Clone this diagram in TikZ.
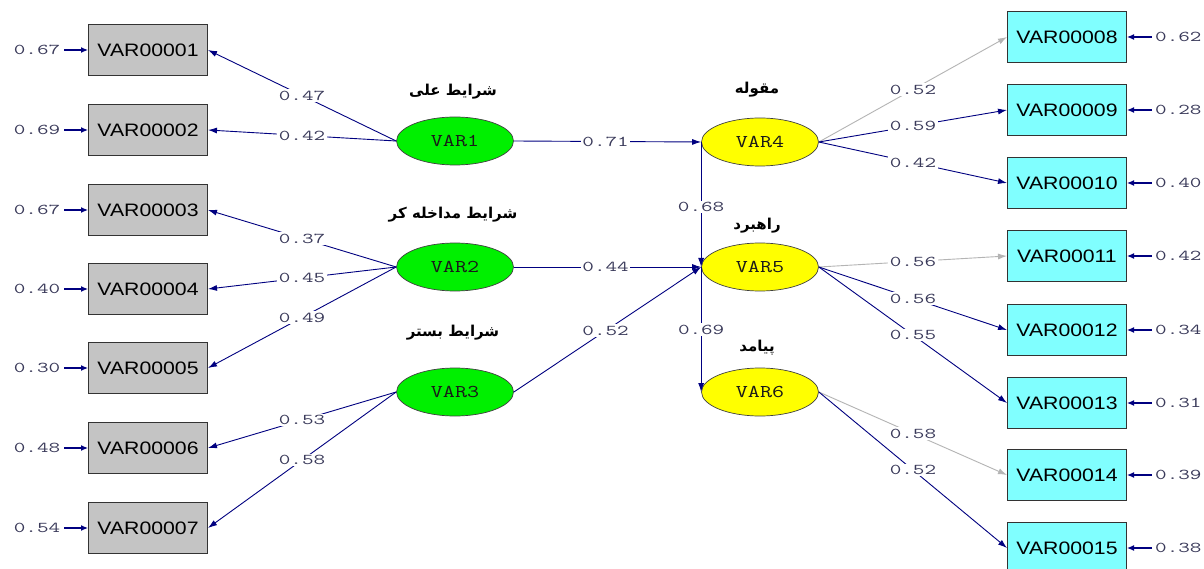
\documentclass[tikz,border=0pt]{standalone}
\usepackage{fontspec}
\setmainfont{Liberation Sans}
\newfontfamily\arabicfont[Script=Arabic]{DejaVu Sans}
\TeXXeTstate=1
\usetikzlibrary{shapes.geometric,arrows.meta}
\definecolor{navy}{HTML}{000080}
\definecolor{lgray}{HTML}{B4B4B4}
\definecolor{boxgray}{HTML}{C4C4C4}
\definecolor{boxcyan}{HTML}{80FFFF}
\definecolor{lgreen}{HTML}{00F000}
\definecolor{lyellow}{HTML}{FFFF00}
\definecolor{numcol}{HTML}{3A3A5A}
\newcommand{\cf}[1]{\scalebox{1.5}[1]{#1}}
\newcommand{\vl}[1]{\scalebox{1.3}[1]{#1}}
\newcommand{\bx}[1]{\scalebox{1.18}[1]{#1}}
\newcommand{\ar}[1]{\arabicfont\bfseries\beginR #1\endR}
\tikzset{
  obs/.style={draw=black!80, line width=1pt, minimum width=119pt, minimum height=51pt, inner sep=0pt, font=\fontsize{18}{18}\selectfont},
  lobs/.style={obs, fill=boxgray},
  robs/.style={obs, fill=boxcyan},
  lat/.style={ellipse, draw=black!75, line width=0.7pt, minimum width=117pt, minimum height=48pt, inner sep=0pt, font=\ttfamily\fontsize{18}{18}\selectfont, text=black!90},
  glat/.style={lat, fill=lgreen},
  ylat/.style={lat, fill=lyellow},
  path/.style={draw=navy, line width=0.9pt, -{Latex[length=9pt,width=6pt]}},
  gpath/.style={path, draw=lgray},
  err/.style={draw=navy, line width=1.2pt, -{Latex[length=7pt,width=6pt]}},
  coef/.style={fill=white, inner sep=1.5pt, text=numcol, font=\ttfamily\fontsize{15}{15}\selectfont},
  etext/.style={text=numcol, inner sep=0pt, font=\ttfamily\fontsize{15}{15}\selectfont},
  albl/.style={font=\fontsize{15}{15}\selectfont, inner sep=0pt}
}
\begin{document}
\begin{tikzpicture}[x=1pt,y=-1pt]
\useasboundingbox[fill=white] (0,0) rectangle (1204,569);
% left observed
\foreach \i/\y/\e in {1/50/0.67,2/130/0.69,3/210/0.67,4/289/0.40,5/368/0.30,6/448/0.48,7/528/0.54}{
  \node[lobs] (b\i) at (148,\y) {\bx{VAR0000\i}};
  \coordinate (le\i) at (64,\y);
  \node[etext] (lt\i) at (37,\y) {\cf{\e}};
  \draw[err] (le\i) -- (b\i.west);
}
% right observed
\foreach \i/\y/\e in {08/37/0.62,09/110/0.28,10/183/0.40,11/256/0.42,12/330/0.34,13/403/0.31,14/475/0.39,15/548/0.38}{
  \node[robs] (b\i) at (1067,\y) {\bx{VAR000\i}};
  \coordinate (re\i) at (1152,\y);
  \node[etext, anchor=west] (rt\i) at (1155,\y) {\cf{\e}};
  \draw[err] (re\i) -- (b\i.east);
}
% latent
\node[glat] (v1) at (455,141) {\vl{VAR1}};
\node[glat] (v2) at (455,267) {\vl{VAR2}};
\node[glat] (v3) at (455,392) {\vl{VAR3}};
\node[ylat] (v4) at (760,142) {\vl{VAR4}};
\node[ylat] (v5) at (760,267) {\vl{VAR5}};
\node[ylat] (v6) at (760,392) {\vl{VAR6}};
% arabic labels
\node[albl] (a1) at (453,92) {\ar{شرایط علی}};
\node[albl] (a2) at (453,215) {\ar{شرایط مداخله کر}};
\node[albl] (a3) at (453,333) {\ar{شرایط بستر}};
\node[albl] (a4) at (757,90) {\ar{مقوله}};
\node[albl] (a5) at (757,226) {\ar{راهبرد}};
\node[albl] (a6) at (757,348) {\ar{پیامد}};
% left loadings
\draw[path] (v1.west) -- node[coef,pos=.5]{\cf{0.47}} (b1.east);
\draw[path] (v1.west) -- node[coef,pos=.5]{\cf{0.42}} (b2.east);
\draw[path] (v2.west) -- node[coef,pos=.5]{\cf{0.37}} (b3.east);
\draw[path] (v2.west) -- node[coef,pos=.5]{\cf{0.45}} (b4.east);
\draw[path] (v2.west) -- node[coef,pos=.5]{\cf{0.49}} (b5.east);
\draw[path] (v3.west) -- node[coef,pos=.5]{\cf{0.53}} (b6.east);
\draw[path] (v3.west) -- node[coef,pos=.5]{\cf{0.58}} (b7.east);
% structural
\draw[path] (v1.east) -- node[coef,pos=.49]{\cf{0.71}} (v4.west);
\draw[path] (v2.east) -- node[coef,pos=.49]{\cf{0.44}} (v5.west);
\draw[path] (v3.east) -- node[coef,pos=.49]{\cf{0.52}} (v5.west);
\draw[path] (v4.west) -- node[coef,pos=.52]{\cf{0.68}} (v5.west);
\draw[path] (v5.west) -- node[coef,pos=.5]{\cf{0.69}} (v6.west);
% right loadings
\draw[gpath] (v4.east) -- node[coef,pos=.5]{\cf{0.52}} (b08.west);
\draw[path] (v4.east) -- node[coef,pos=.5]{\cf{0.59}} (b09.west);
\draw[path] (v4.east) -- node[coef,pos=.5]{\cf{0.42}} (b10.west);
\draw[gpath] (v5.east) -- node[coef,pos=.5]{\cf{0.56}} (b11.west);
\draw[path] (v5.east) -- node[coef,pos=.5]{\cf{0.56}} (b12.west);
\draw[path] (v5.east) -- node[coef,pos=.5]{\cf{0.55}} (b13.west);
\draw[gpath] (v6.east) -- node[coef,pos=.5]{\cf{0.58}} (b14.west);
\draw[path] (v6.east) -- node[coef,pos=.5]{\cf{0.52}} (b15.west);
\end{tikzpicture}
\end{document}
